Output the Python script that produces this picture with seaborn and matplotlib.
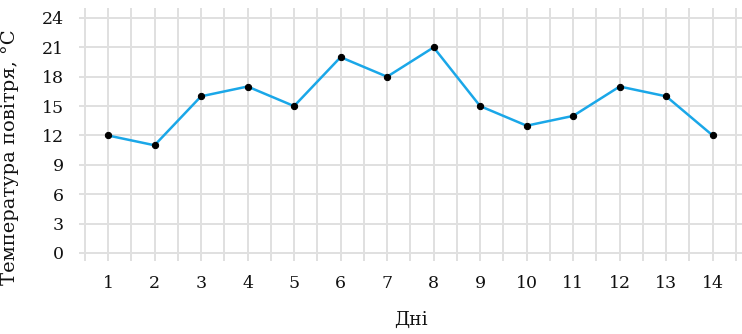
import matplotlib
matplotlib.use("Agg")
import matplotlib.pyplot as plt
import seaborn as sns
import pandas as pd
import numpy as np

days = [1, 2, 3, 4, 5, 6, 7, 8, 9, 10, 11, 12, 13, 14]
temps = [12, 11, 16, 17, 15, 20, 18, 21, 15, 13, 14, 17, 16, 12]
y_ticks = [0, 3, 6, 9, 12, 15, 18, 21, 24]
x_label = "Дні"
y_label = "Температура повітря, °C"

sns.set_theme(style="white")
plt.rcParams['font.family'] = ['DejaVu Serif']
plt.rcParams['mathtext.fontset'] = 'dejavuserif'

df = pd.DataFrame({"day": days, "temp": temps})

fig = plt.figure(figsize=(7.42, 3.34), dpi=100)
ax = fig.add_axes([79 / 742, 73 / 334, 663 / 742, 253 / 334])

ax.set_xlim(0.376, 14.63)
ax.set_ylim(-0.82, 25.02)

ax.set_xticks(days)
ax.set_xticks([d - 0.5 for d in days] + [days[-1] + 0.5], minor=True)
ax.set_yticks(y_ticks)

ax.grid(True, which="both", axis="x", color="#e0e0e0", linewidth=1.4)
ax.grid(True, which="major", axis="y", color="#e0e0e0", linewidth=1.4)
ax.set_axisbelow(True)

sns.lineplot(data=df, x="day", y="temp", ax=ax, color="#1aa7e8", linewidth=1.8,
             marker="o", markersize=4.5, markerfacecolor="black",
             markeredgecolor="black", zorder=3)

for s in ax.spines.values():
    s.set_visible(False)

ax.tick_params(axis="both", which="both", length=0, labelsize=12.5, colors="#111111")
ax.tick_params(axis="y", pad=11)
ax.tick_params(axis="x", pad=10)

ax.set_xlabel(x_label, fontsize=13.5, color="#111111", labelpad=14)
ax.set_ylabel(y_label, fontsize=14, color="#111111")
ax.yaxis.set_label_coords(-0.09, 0.41)

fig.savefig("out.png", dpi=100)
